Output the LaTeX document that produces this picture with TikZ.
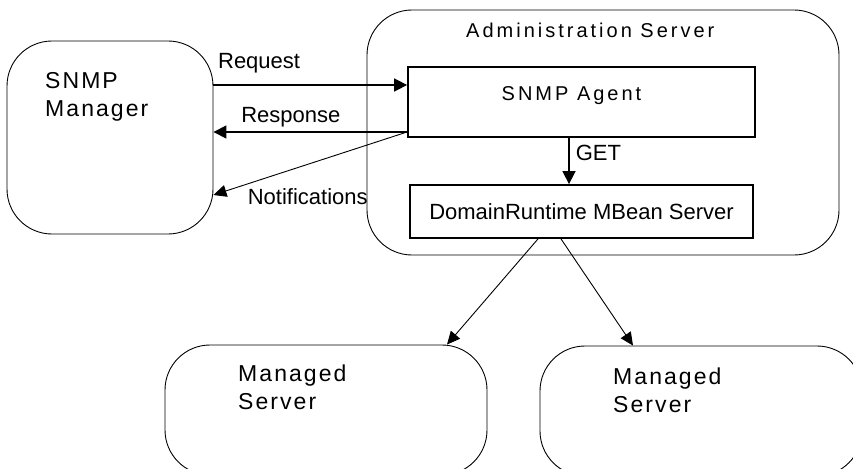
\documentclass[tikz,border=0pt]{standalone}
\usepackage{fontspec}
\setmainfont{Liberation Sans}
\newfontfamily\srvfont[LetterSpace=9]{Liberation Sans}
\newfontfamily\admfont[LetterSpace=15]{Liberation Sans}
\usetikzlibrary{arrows.meta,calc,positioning}
\tikzset{
    srvbox/.style = {draw, rectangle, rounded corners=45pt, line width=0.9pt},
    block/.style = {draw, rectangle, line width=1.8pt, align=center},
    msg/.style = {draw, line width=1.6pt, -{Triangle[length=13pt,width=13pt]}},
    thinarrow/.style = {draw, line width=0.9pt, -{Triangle[length=13pt,width=12pt]}},
    lbl/.style = {font=\fontsize{22}{26}\selectfont, inner sep=0pt},
    srvtitle/.style = {font=\srvfont\fontsize{23}{28}\selectfont, inner sep=0pt, align=left},
    admtitle/.style = {font=\admfont\fontsize{20}{24}\selectfont, inner sep=0pt}
}

\begin{document}
\begin{tikzpicture}[x=1pt, y=-1pt]
        \useasboundingbox (0,0) rectangle (853,468);
        \clip (0,0) rectangle (853,468);
        \node [srvbox, minimum width=206pt, minimum height=193pt] (manager) at (110,137.5) {};
        \node [srvbox, minimum width=472pt, minimum height=245pt] (admin) at (603,132.5) {};
        \node [block, minimum width=347pt, minimum height=70pt,
               label={[admtitle, xshift=-10pt, yshift=6pt]center:SNMP Agent}] (agent) at (581.5,102) {};
        \node [block, lbl, minimum width=343pt, minimum height=53pt] (runtime) at (581.5,211.5) {DomainRuntime MBean Server};
        \node [srvbox, minimum width=322pt, minimum height=130pt] (managedA) at (326,410) {};
        \node [srvbox, minimum width=322pt, minimum height=130pt] (managedB) at (701,411) {};
        \node [srvtitle, anchor=north west] (mgrname) at (45,72) {SNMP\\Manager};
        \node [admtitle, anchor=base west] (admname) at (466,38) {Administration Server};
        \node [srvtitle, anchor=north west] (msAname) at (238,365) {Managed\\Server};
        \node [srvtitle, anchor=north west] (msBname) at (613,368) {Managed\\Server};
        \draw [msg] ([yshift=17pt]agent.west -| manager.east) -- node [lbl, pos=0.02, anchor=base west, yshift=16pt] {Request} ([yshift=17pt]agent.west);
        \draw [msg] ([yshift=-30pt]agent.west) -- node [lbl, pos=0.86, anchor=base west, yshift=9pt] {Response} ([yshift=-30pt]agent.west -| manager.east);
        \draw [thinarrow] ([yshift=-30pt]agent.west) -- node [lbl, pos=0.825, anchor=base west, yshift=-21pt] {Notifications} ([yshift=-57.5pt]manager.east);
        \draw [msg] ([xshift=-12.5pt]agent.south) -- node [lbl, pos=0.32, anchor=west, xshift=6pt] {GET} ([xshift=-12.5pt]agent.south |- runtime.north);
        \draw [thinarrow] ([xshift=-43.5pt]runtime.south) -- ([xshift=121pt]managedA.north);
        \draw [thinarrow] ([xshift=-20.5pt]runtime.south) -- ([xshift=-68pt]managedB.north);
        \end{tikzpicture}
\end{document}
